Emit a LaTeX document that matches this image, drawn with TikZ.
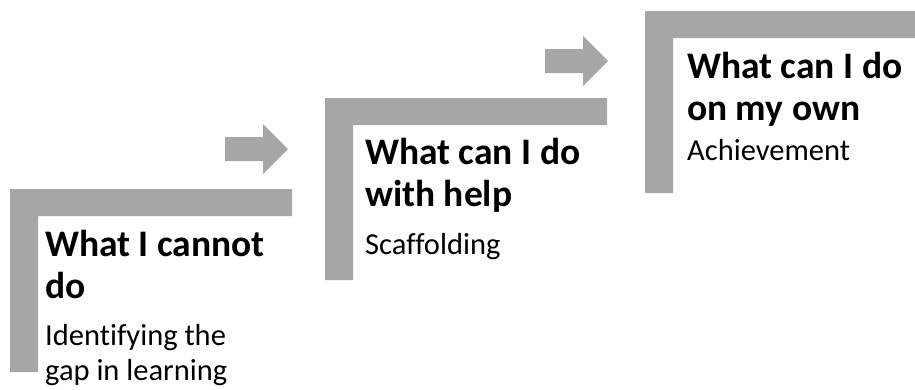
\documentclass[tikz,border=0pt]{standalone}
\usepackage{fontspec}
\setmainfont{Carlito}[Ligatures=NoCommon]
\usetikzlibrary{positioning}

\definecolor{stepgray}{RGB}{166,166,166}
\newcommand{\stepbold}{\fontsize{37.5}{42}\selectfont\bfseries}
\newcommand{\steplight}{\fontsize{30.5}{35}\selectfont}

\begin{document}
\begin{tikzpicture}[x=1pt, y=-1pt,
stair/.style={fill=stepgray, draw=none},
steptitle/.style={anchor=base west, inner sep=0pt, align=left, font=\stepbold},
stepnote/.style={anchor=base west, inner sep=0pt, align=left, font=\steplight}
]

\path[use as bounding box] (0,0) rectangle (915,389);

% the three stairs
\foreach \sx/\sy/\sw/\sh in {10/189/282/183, 325/98/282/182, 645/11/270/182}
  \fill[stair] (\sx,\sy) -- (\sx+\sw,\sy) -- (\sx+\sw,\sy+27) -- (\sx+28,\sy+27)
    -- (\sx+28,\sy+\sh) -- (\sx,\sy+\sh) -- cycle;

% arrows between the stairs
\foreach \ax/\ay in {225/149, 545/61}
  \fill[stair] (\ax,\ay-12) -- (\ax+38,\ay-12) -- (\ax+38,\ay-25) -- (\ax+63,\ay)
    -- (\ax+38,\ay+25) -- (\ax+38,\ay+12) -- (\ax,\ay+12) -- cycle;

% base anchor = baseline of the last line
\node (cannot) [steptitle] at (45,298) {What I cannot\\ do};
\node (gap) [stepnote] at (45,380) {Identifying the\\ gap in learning};

\node (help) [steptitle] at (365,206) {What can I do\\ with help};
\node (scaffold) [stepnote] at (365,254) {Scaffolding};

\node (own) [steptitle] at (687,120) {What can I do\\ on my own};
\node (achieve) [stepnote] at (687,160) {Achievement};

\end{tikzpicture}
\end{document}
